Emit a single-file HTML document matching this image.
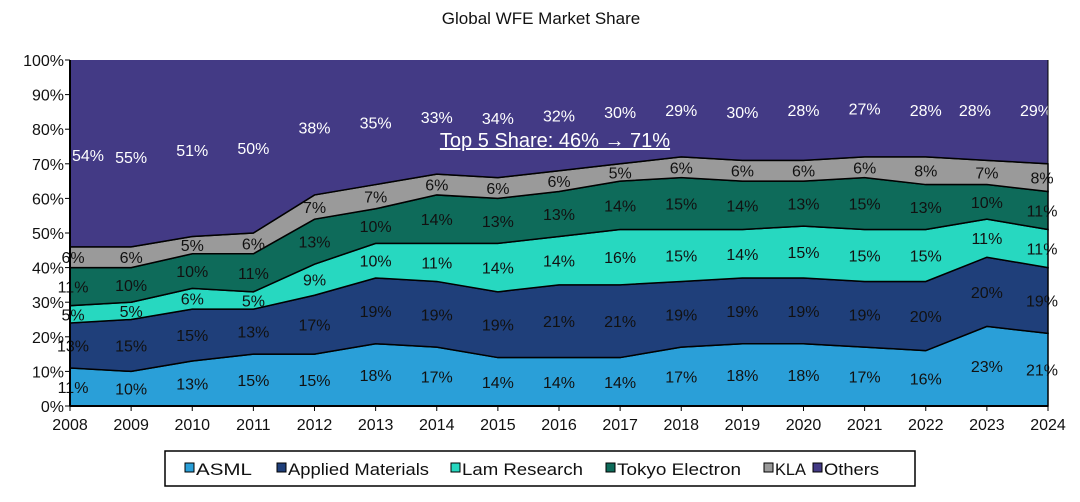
<!DOCTYPE html>
<html><head><meta charset="utf-8"><style>
body{margin:0;background:#fff;font-family:"Liberation Sans",Arial,sans-serif}
svg text{font-family:"Liberation Sans",Arial,sans-serif}
</style></head><body>
<svg id="c" width="1080" height="497" xmlns="http://www.w3.org/2000/svg">
<text x="541" y="24" text-anchor="middle" font-size="17" fill="#111">Global WFE Market Share</text>
<g id="areas"></g><g id="labels"></g><g id="axes"></g>
<text x="555" y="147" text-anchor="middle" font-size="20" fill="#fff" text-decoration="underline">Top 5 Share: 46% → 71%</text>
<rect x="165" y="451" width="750" height="35" fill="#fff" stroke="#000" stroke-width="1.5"/>
<g id="legend"></g>
</svg>
<script>
const years=["2008","2009","2010","2011","2012","2013","2014","2015","2016","2017","2018","2019","2020","2021","2022","2023","2024"];
const asml=[11,10,13,15,15,18,17,14,14,14,17,18,18,17,16,23,21];
const amat=[13,15,15,13,17,19,19,19,21,21,19,19,19,19,20,20,19];
const lam=[5,5,6,5,9,10,11,14,14,16,15,14,15,15,15,11,11];
const tel=[11,10,10,11,13,10,14,13,13,14,15,14,13,15,13,10,11];
const kla=[6,6,5,6,7,7,6,6,6,5,6,6,6,6,8,7,8];
const others=[54,55,51,50,38,35,33,34,32,30,29,30,28,27,28,28,29];
const yTicks=[0,10,20,30,40,50,60,70,80,90,100];
const names=["ASML","Applied Materials","Lam Research","Tokyo Electron","KLA","Others"];
const colors=["#2a9fd8","#1f3f7a","#27d8c0","#0e6b5a","#9a9a9a","#433a85"];
const txtCol=["#111","#111","#111","#111","#111","#fff"];
const NS="http://www.w3.org/2000/svg";
const X0=70,X1=1048,Y0=406,Y1=60;
const xs=i=>X0+i*(X1-X0)/(years.length-1);
const ys=v=>Y0-v*(Y0-Y1)/100;
function mk(t,a,p){const e=document.createElementNS(NS,t);for(const k in a)e.setAttribute(k,a[k]);p.appendChild(e);return e;}
const series=[asml,amat,lam,tel,kla];
const A=document.getElementById('areas'),L=document.getElementById('labels'),X=document.getElementById('axes');
let base=years.map(()=>0);
series.forEach((s,k)=>{
  const top=base.map((b,i)=>b+s[i]);
  let d=top.map((v,i)=>(i?'L':'M')+xs(i)+','+ys(v)).join('');
  for(let i=years.length-1;i>=0;i--)d+='L'+xs(i)+','+ys(base[i]);
  const p=mk('path',{d:d+'Z',fill:colors[k],stroke:'#000','stroke-width':1.5},A);
  
  
  s.forEach((v,i)=>{
    const t=mk('text',{x:xs(i)+(i==0?3:i==16?-6:0),y:ys(base[i]+v/2)+6,'text-anchor':'middle','font-size':16,fill:txtCol[k]},L);
    t.textContent=v+'%';
    
    
  });
  base=top;
});
let d=years.map((y,i)=>(i?'L':'M')+xs(i)+','+ys(100)).join('');
for(let i=years.length-1;i>=0;i--)d+='L'+xs(i)+','+ys(base[i]);
const po=mk('path',{d:d+'Z',fill:colors[5]},A);


mk('path',{d:base.map((v,i)=>(i?'L':'M')+xs(i)+','+ys(v)).join(''),fill:'none',stroke:'#000','stroke-width':1.5},A);
const oy=[72.5,72,74,74.5,80.5,82,83.5,83.3,84,85,85.5,85,85.5,86,85.5,85.5,85.5];
others.forEach((v,i)=>{
  const t=mk('text',{x:xs(i)+(i==0?18:i==16?-12:i==15?-12:0),y:ys(oy[i])+6,'text-anchor':'middle','font-size':16,fill:'#fff'},L);
  t.textContent=v+'%';
  
  
});
mk('line',{x1:X0,y1:Y1,x2:X0,y2:Y0,stroke:'#000','stroke-width':2},X);
mk('line',{x1:X0,y1:Y0,x2:X1,y2:Y0,stroke:'#000','stroke-width':2},X);
mk('line',{x1:X1,y1:Y1,x2:X1,y2:Y0,stroke:'#000','stroke-width':1},X);
yTicks.forEach(v=>{
  mk('line',{x1:X0-5,y1:ys(v),x2:X0,y2:ys(v),stroke:'#000'},X);
  const t=mk('text',{x:X0-6,y:ys(v)+6,'text-anchor':'end','font-size':16,fill:'#111'},X);
  t.textContent=v+'%';
  
  
});
years.forEach((y,i)=>{
  mk('line',{x1:xs(i),y1:Y0,x2:xs(i),y2:Y0+5,stroke:'#000'},X);
  const t=mk('text',{x:xs(i),y:Y0+24,'text-anchor':'middle','font-size':16,fill:'#111'},X);
  t.textContent=y;
  
  
});
const G=document.getElementById('legend');
const lx=[185,277,451,606,764,813];
const lw=[56,141,121,124,31,55];
names.forEach((n,k)=>{
  const g=mk('g',{},G);
  
  
  mk('rect',{x:lx[k],y:463,width:9,height:9,fill:colors[k],stroke:'#000','stroke-width':1},g);
  const t=mk('text',{x:lx[k]+11,y:475,'font-size':17,fill:'#111',textLength:lw[k],lengthAdjust:'spacingAndGlyphs'},g);
  t.textContent=n;
});
</script>
</body></html>
